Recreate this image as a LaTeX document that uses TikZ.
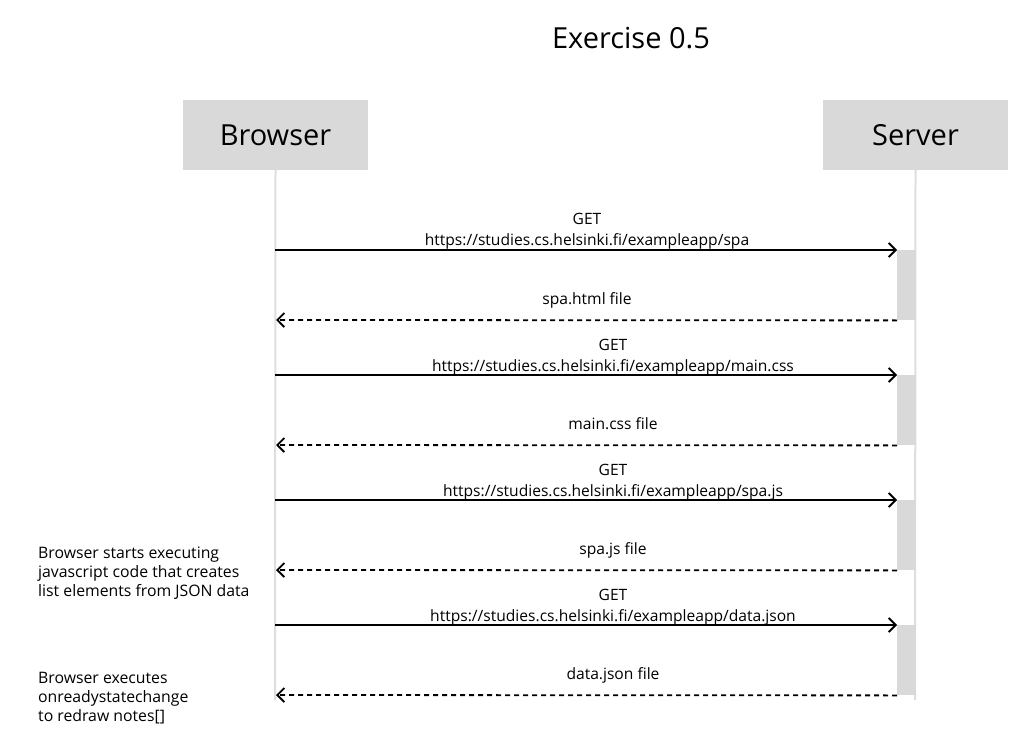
\documentclass[tikz,border=0pt]{standalone}
\usepackage{fontspec}
\setmainfont{Open Sans}
\usetikzlibrary{arrows.meta}
\definecolor{boxgray}{HTML}{D9D9D9}
\definecolor{linegray}{HTML}{DEDEDE}
\begin{document}
\begin{tikzpicture}[x=1pt,y=-1pt,
  actor/.style={fill=boxgray, minimum width=185pt, minimum height=70pt, inner sep=0pt, font=\fontsize{29}{33}\selectfont},
  life/.style={draw=linegray, line width=2pt},
  actbar/.style={fill=boxgray, minimum width=19pt, minimum height=70pt, inner sep=0pt, anchor=north west},
  req/.style={line width=1.8pt, -{Straight Barb[length=7pt,width=14pt,line width=1.8pt]}},
  resp/.style={line width=1.8pt, dash pattern=on 5pt off 4pt, -{Straight Barb[length=7pt,width=14pt,line width=1.8pt]}},
  msg/.style={font=\fontsize{15.6}{19}\selectfont, align=center, inner sep=0pt, anchor=base},
  note/.style={font=\fontsize{15.8}{19}\selectfont, align=left, inner sep=0pt, anchor=base west},
]
\useasboundingbox (0,0) rectangle (1035,743);
\node[font=\fontsize{29}{33}\selectfont, anchor=base] (title) at (631,49) {Exercise 0.5};
\node[actor] (browser) at (275.5,135) {Browser};
\node[actor] (server) at (915.5,135) {Server};
\coordinate (bend) at (275,700);
\coordinate (send) at (915,700);
\draw[life] (browser.south) -- (bend);
\draw[life] (server.south) -- (send);
% activation bars
\node[actbar] (a1) at (897,250) {};
\node[actbar] (a2) at (897,375) {};
\node[actbar] (a3) at (897,500) {};
\node[actbar] (a4) at (897,625) {};
% browser-side anchors
\coordinate (b1) at (275,250);
\coordinate (r1) at (276,320);
\coordinate (b2) at (275,375);
\coordinate (r2) at (276,445);
\coordinate (b3) at (275,500);
\coordinate (r3) at (276,570);
\coordinate (b4) at (275,625);
\coordinate (r4) at (276,695);
\draw[req] (b1) -- (a1.north west);
\draw[resp] (a1.south west) -- (r1);
\draw[req] (b2) -- (a2.north west);
\draw[resp] (a2.south west) -- (r2);
\draw[req] (b3) -- (a3.north west);
\draw[resp] (a3.south west) -- (r3);
\draw[req] (b4) -- (a4.north west);
\draw[resp] (a4.south west) -- (r4);
% labels
\node[msg] (l1a) at (587,225) {GET};
\node[msg] (l1b) at (587,246) {https://studies.cs.helsinki.fi/exampleapp/spa};
\node[msg] (l2) at (587,304) {spa.html file};
\node[msg] (l3a) at (613,350) {GET};
\node[msg] (l3b) at (613,371) {https://studies.cs.helsinki.fi/exampleapp/main.css};
\node[msg] (l4) at (613,429) {main.css file};
\node[msg] (l5a) at (613,475) {GET};
\node[msg] (l5b) at (613,496) {https://studies.cs.helsinki.fi/exampleapp/spa.js};
\node[msg] (l6) at (613,554) {spa.js file};
\node[msg] (l7a) at (613,600) {GET};
\node[msg] (l7b) at (613,621) {https://studies.cs.helsinki.fi/exampleapp/data.json};
\node[msg] (l8) at (613,679) {data.json file};
% notes (base = last line)
\node[note] (n1) at (38,596) {Browser starts executing\\javascript code that creates\\list elements from JSON data};
\node[note] (n2) at (38,721) {Browser executes\\onreadystatechange\\to redraw notes[]};
\end{tikzpicture}
\end{document}
